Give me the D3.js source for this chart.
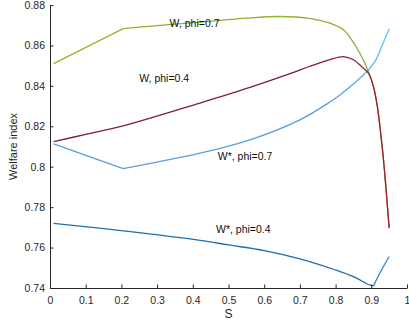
<!DOCTYPE html>
<html>
<head>
<meta charset="utf-8">
<script src="https://cdn.jsdelivr.net/npm/d3@7"></script>
<style>
  body { margin: 0; background: #fff; }
  svg { display: block; font-family: "Liberation Sans", Arial, sans-serif; }
</style>
</head>
<body>
<div id="chart"></div>
<script>
// Series
const sW7 = [0.01, 0.205, 0.3, 0.448, 0.55, 0.644, 0.73, 0.784, 0.822, 0.845, 0.87, 0.892, 0.906, 0.917, 0.927, 0.936, 0.95];
const vW7 = [0.851, 0.8683, 0.8698, 0.8719, 0.8735, 0.8743, 0.8733, 0.871, 0.8677, 0.8628, 0.8555, 0.847, 0.8397, 0.8297, 0.8155, 0.80, 0.7696];

const sW4 = [0.01, 0.1, 0.205, 0.42, 0.56, 0.672, 0.728, 0.784, 0.822, 0.85, 0.873, 0.892, 0.906, 0.917, 0.927, 0.936, 0.95];
const vW4 = [0.8124, 0.816, 0.8202, 0.8315, 0.8392, 0.846, 0.8497, 0.853, 0.8545, 0.8529, 0.8495, 0.8463, 0.8397, 0.8297, 0.8155, 0.80, 0.7696];

const sWs7 = [0.01, 0.205, 0.3, 0.42, 0.56, 0.70, 0.784, 0.812, 0.887, 0.91, 0.933, 0.95];
const vWs7 = [0.8113, 0.799, 0.8023, 0.8067, 0.8133, 0.8232, 0.832, 0.8355, 0.847, 0.852, 0.8611, 0.8682];

const sWs4 = [0.01, 0.2, 0.42, 0.5, 0.6, 0.7, 0.8, 0.85, 0.895, 0.906, 0.924, 0.95];
const vWs4 = [0.772, 0.7684, 0.7636, 0.7613, 0.7585, 0.7544, 0.7489, 0.7456, 0.7415, 0.741, 0.7474, 0.7555];

// corners (S values where the curve has a kink)
const kW7 = [0.205];
const kW4 = [];
const kWs7 = [0.205];
const kWs4 = [0.906];

const xTicks = [0, 0.1, 0.2, 0.3, 0.4, 0.5, 0.6, 0.7, 0.8, 0.9, 1];
const yTicks = [0.74, 0.76, 0.78, 0.8, 0.82, 0.84, 0.86, 0.88];

const labels = [
    { text: "W, phi=0.7", s: 0.335, v: 0.8693 },
    { text: "W, phi=0.4", s: 0.25, v: 0.8418 },
    { text: "W*, phi=0.7", s: 0.47, v: 0.8035 },
    { text: "W*, phi=0.4", s: 0.465, v: 0.7674 }
];

// Set the dimensions and margins of the graph
const margin = { top: 5, right: 2, bottom: 38, left: 50 };
const width = 409 - margin.left - margin.right;
const height = 326 - margin.top - margin.bottom;

const svg = d3.select("#chart")
    .append("svg")
    .attr("width", 409)
    .attr("height", 326)
    .append("g")
    .attr("transform", `translate(${margin.left},${margin.top})`);

const x = d3.scaleLinear().domain([0, 1]).range([0, 357]);
const y = d3.scaleLinear().domain([0.74, 0.88]).range([height, 0]);

// Gradients to mimic the shading of the lines
const defs = svg.append("defs");
function grad(id, s0, s1, c0, c1) {
    const g = defs.append("linearGradient")
        .attr("id", id)
        .attr("gradientUnits", "userSpaceOnUse")
        .attr("x1", x(s0)).attr("x2", x(s1))
        .attr("y1", 0).attr("y2", 0);
    g.append("stop").attr("offset", 0).attr("stop-color", c0);
    g.append("stop").attr("offset", 1).attr("stop-color", c1);
}
grad("gWs7", 0.8, 0.95, "#5a9edb", "#5cc6ef");
grad("gWs4", 0.88, 0.95, "#1f6eae", "#3f95dc");
grad("gW4", 0.7, 0.93, "#7b1c46", "#a31a2e");
grad("gW7", 0.7, 0.95, "#8db52c", "#86b02e");

const line = d3.line()
    .x(d => x(d[0]))
    .y(d => y(d[1]))
    .curve(d3.curveCatmullRom.alpha(0.5));

// split a series into smooth pieces at its corners
function pieces(s, v, knees) {
    const out = [];
    let cur = [];
    s.forEach((si, i) => {
        cur.push([si, v[i]]);
        if (knees.includes(si)) {
            out.push(cur);
            cur = [[si, v[i]]];
        }
    });
    out.push(cur);
    return out;
}

const series = [
    { parts: pieces(sW7, vW7, kW7), stroke: "url(#gW7)" },
    { parts: pieces(sWs7, vWs7, kWs7), stroke: "url(#gWs7)" },
    { parts: pieces(sWs4, vWs4, kWs4), stroke: "url(#gWs4)" },
    { parts: pieces(sW4, vW4, kW4), stroke: "url(#gW4)" }
];

svg.selectAll(".series")
    .data(series)
    .enter()
    .append("path")
    .attr("fill", "none")
    .attr("stroke", d => d.stroke)
    .attr("stroke-width", 1.3)
    .attr("stroke-linejoin", "round")
    .attr("d", d => d.parts.map(p => line(p)).join(""));

// Axes (MATLAB style, ticks inside, no box)
const axColor = "#262626";

const xAxis = svg.append("g")
    .attr("transform", `translate(0,${height})`)
    .call(d3.axisBottom(x).tickValues(xTicks).tickSizeInner(-3.5).tickSizeOuter(0)
        .tickPadding(9).tickFormat(d3.format("~g")));

const yAxis = svg.append("g")
    .call(d3.axisLeft(y).tickValues(yTicks).tickSizeInner(-3.5).tickSizeOuter(0)
        .tickPadding(5).tickFormat(d3.format("~g")));

[xAxis, yAxis].forEach(a => {
    a.select(".domain").attr("stroke", axColor).attr("stroke-width", 1);
    a.selectAll(".tick line").attr("stroke", axColor);
    a.selectAll(".tick text")
        .attr("fill", axColor)
        .attr("font-size", 10.5)
        .attr("font-family", "Liberation Sans, Arial, sans-serif");
});

// Axis labels
svg.append("text")
    .attr("x", x(0.5))
    .attr("y", height + 30)
    .attr("text-anchor", "middle")
    .attr("font-size", 12)
    .attr("fill", axColor)
    .text("S");

svg.append("text")
    .attr("transform", `translate(${-33},${height / 2}) rotate(-90)`)
    .attr("text-anchor", "middle")
    .attr("font-size", 11)
    .attr("fill", axColor)
    .text("Welfare index");

// Curve annotations
svg.selectAll(".lbl")
    .data(labels)
    .enter()
    .append("text")
    .attr("x", d => x(d.s))
    .attr("y", d => y(d.v))
    .attr("font-size", 10.5)
    .attr("fill", "#111")
    .text(d => d.text);
</script>
</body>
</html>
